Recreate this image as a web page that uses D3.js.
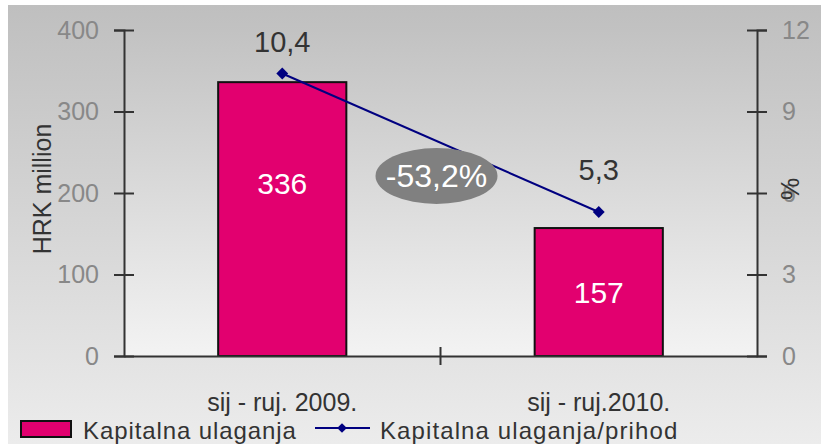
<!DOCTYPE html>
<html>
<head>
<meta charset="utf-8">
<script src="https://cdn.jsdelivr.net/npm/d3@7"></script>
<style>
  body { margin: 0; background: #fff; }
  svg text { font-family: "Liberation Sans", Arial, sans-serif; }
</style>
</head>
<body>
<div class="chart"></div>
<script>
// podaci
const categories = ['sij - ruj. 2009.', 'sij - ruj.2010.'];
const capex = [336, 157];             // HRK million
const capexRatio = [10.4, 5.3];       // %
const changeLabel = '-53,2%';
const leftTicks = [0, 100, 200, 300, 400];
const rightTicks = [0, 3, 6, 9, 12];
const seriesNames = ['Kapitalna ulaganja', 'Kapitalna ulaganja/prihod'];

const hr = d3.formatLocale({decimal: ',', thousands: '.', grouping: [3], currency: ['', ' kn']});
const fmt1 = hr.format('.1f');

const width = 821, height = 444;
const margin = {top: 30, right: 64, bottom: 88, left: 124};

const svg = d3.select('.chart').append('svg')
  .attr('width', width).attr('height', height);

const defs = svg.append('defs');
const gOuter = defs.append('linearGradient').attr('id', 'bgOuter')
  .attr('x1', 0).attr('y1', 0).attr('x2', 0).attr('y2', 1);
gOuter.append('stop').attr('offset', '0%').attr('stop-color', '#bfbfbf');
gOuter.append('stop').attr('offset', '100%').attr('stop-color', '#ececec');
const gPlot = defs.append('linearGradient').attr('id', 'bgPlot')
  .attr('x1', 0).attr('y1', 0).attr('x2', 0).attr('y2', 1);
gPlot.append('stop').attr('offset', '0%').attr('stop-color', '#c2c2c2');
gPlot.append('stop').attr('offset', '100%').attr('stop-color', '#f3f3f3');

svg.append('rect').attr('x', 8).attr('y', 5)
  .attr('width', width - 8).attr('height', height - 5)
  .attr('fill', 'url(#bgOuter)');

const x0 = margin.left, x1 = width - margin.right;
const y0 = height - margin.bottom, y1 = margin.top;

svg.append('rect').attr('x', x0).attr('y', y1)
  .attr('width', x1 - x0).attr('height', y0 - y1)
  .attr('fill', 'url(#bgPlot)');

// skale
const xScale = d3.scaleBand().domain(categories).range([x0, x1]).paddingInner(0).paddingOuter(0);
const yLeft = d3.scaleLinear().domain([0, 400]).range([y0, y1]);
const yRight = d3.scaleLinear().domain([0, 12]).range([y0, y1]);
const barW = xScale.bandwidth() * 0.405;

// stupci
svg.selectAll('.bar').data(capex).enter().append('rect')
  .attr('class', 'bar')
  .attr('x', (d, i) => xScale(categories[i]) + xScale.bandwidth() / 2 - barW / 2)
  .attr('y', d => yLeft(d))
  .attr('width', barW)
  .attr('height', d => yLeft(0) - yLeft(d))
  .attr('fill', '#e2006f')
  .attr('stroke', '#111').attr('stroke-width', 2);

svg.selectAll('.bar-label').data(capex).enter().append('text')
  .attr('class', 'bar-label')
  .attr('x', (d, i) => xScale(categories[i]) + xScale.bandwidth() / 2)
  .attr('y', d => Math.min(yLeft(d / 2), yLeft(d) + 101))
  .attr('dy', '0.35em')
  .attr('text-anchor', 'middle')
  .attr('fill', '#fff').style('font-size', '30px')
  .text(d => d);

// osi
const axisColor = '#333';
const leftAxis = svg.append('g').attr('transform', `translate(${x0},0)`)
  .call(d3.axisLeft(yLeft).tickValues(leftTicks).tickSize(10).tickPadding(14));
const rightAxis = svg.append('g').attr('transform', `translate(${x1},0)`)
  .call(d3.axisRight(yRight).tickValues(rightTicks).tickSize(10).tickPadding(14));
[leftAxis, rightAxis].forEach(g => {
  g.select('.domain').attr('stroke', axisColor).attr('stroke-width', 2);
  g.selectAll('.tick line').attr('stroke', axisColor).attr('stroke-width', 2);
  g.selectAll('.tick text').attr('fill', '#888').style('font-size', '25px')
    .style('font-family', '"Liberation Sans", Arial, sans-serif');
});
leftAxis.selectAll('.tick line').attr('x1', 10).attr('x2', -10);
rightAxis.selectAll('.tick line').attr('x1', -10).attr('x2', 10);
rightAxis.selectAll('.tick text').attr('x', 25);
leftAxis.selectAll('.tick text').attr('x', -25);

const xAxis = svg.append('g').attr('transform', `translate(0,${y0})`)
  .call(d3.axisBottom(xScale).tickSize(0).tickPadding(37));
xAxis.select('.domain').attr('stroke', axisColor).attr('stroke-width', 2);
xAxis.selectAll('.tick text').attr('fill', '#333').style('font-size', '25px')
  .style('font-family', '"Liberation Sans", Arial, sans-serif');
// razdjelnik kategorija
svg.append('line')
  .attr('x1', xScale(categories[1])).attr('x2', xScale(categories[1]))
  .attr('y1', y0 - 9).attr('y2', y0 + 9)
  .attr('stroke', axisColor).attr('stroke-width', 2);

// naslovi osi
svg.append('text')
  .attr('transform', `translate(42,${(y0 + y1) / 2 - 4}) rotate(-90)`)
  .attr('text-anchor', 'middle').attr('dy', '0.35em')
  .attr('fill', '#333').style('font-size', '25px')
  .text('HRK million');
svg.append('text')
  .attr('transform', `translate(790,${(y0 + y1) / 2 - 4}) rotate(-90)`)
  .attr('text-anchor', 'middle').attr('dy', '0.35em')
  .attr('fill', '#333').style('font-size', '25px')
  .text('%');

// linija
const lineData = capexRatio.map((v, i) => ({cat: categories[i], v}));
const cx = d => xScale(d.cat) + xScale.bandwidth() / 2;
const line = d3.line().x(cx).y(d => yRight(d.v));
svg.append('path').datum(lineData)
  .attr('d', line).attr('fill', 'none')
  .attr('stroke', '#000080').attr('stroke-width', 2);
svg.selectAll('.pt').data(lineData).enter().append('path')
  .attr('class', 'pt')
  .attr('transform', d => `translate(${cx(d)},${yRight(d.v)})`)
  .attr('d', d3.symbol(d3.symbolDiamond2, 90))
  .attr('fill', '#000080');
svg.selectAll('.pt-label').data(lineData).enter().append('text')
  .attr('class', 'pt-label')
  .attr('x', cx)
  .attr('y', d => Math.max(yRight(d.v) - 42, 42))
  .attr('dy', '0.35em')
  .attr('text-anchor', 'middle')
  .attr('fill', '#333').style('font-size', '29px')
  .text(d => fmt1(d.v));

// oznaka promjene
const midX = (cx(lineData[0]) + cx(lineData[1])) / 2 - 4;
const midY = 176;
svg.append('ellipse').attr('cx', midX).attr('cy', midY)
  .attr('rx', 61).attr('ry', 28).attr('fill', '#808080');
svg.append('text').attr('x', midX).attr('y', midY)
  .attr('dy', '0.35em').attr('text-anchor', 'middle')
  .attr('fill', '#fff').style('font-size', '32px')
  .text(changeLabel);

// legenda
const legend = svg.append('g').attr('transform', 'translate(0,431)');
legend.append('rect').attr('x', 21).attr('y', -10).attr('width', 50).attr('height', 16)
  .attr('fill', '#e2006f').attr('stroke', '#111').attr('stroke-width', 2);
legend.append('text').attr('x', 83).attr('dy', '0.33em')
  .attr('fill', '#333').style('font-size', '24px').style('letter-spacing', '0.9px')
  .text(seriesNames[0]);
legend.append('line').attr('x1', 315).attr('x2', 370).attr('y1', -3).attr('y2', -3)
  .attr('stroke', '#000080').attr('stroke-width', 2);
legend.append('path').attr('transform', 'translate(342,-3)')
  .attr('d', d3.symbol(d3.symbolDiamond2, 60)).attr('fill', '#000080');
legend.append('text').attr('x', 380).attr('dy', '0.33em')
  .attr('fill', '#333').style('font-size', '24px').style('letter-spacing', '1.1px')
  .text(seriesNames[1]);
</script>
</body>
</html>
